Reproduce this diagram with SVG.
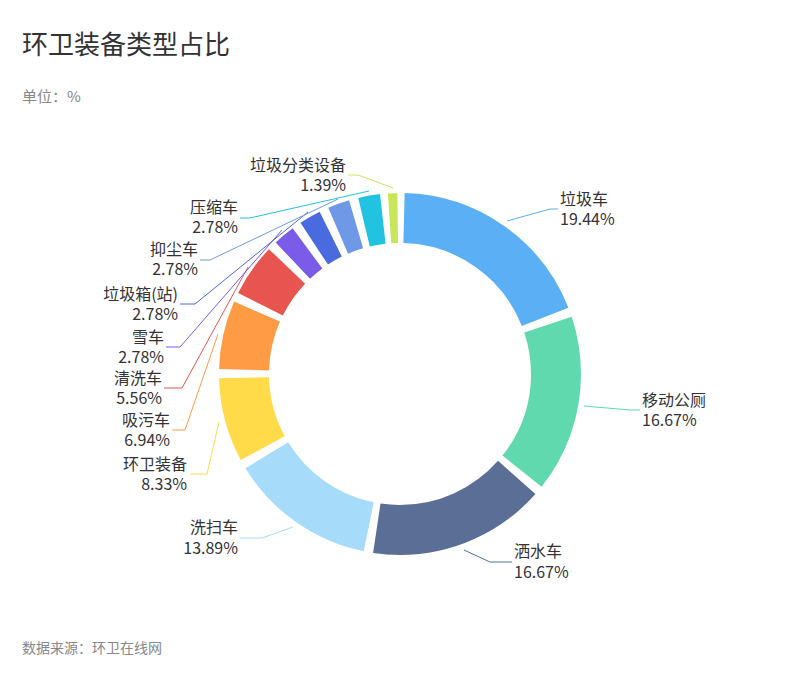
<svg xmlns="http://www.w3.org/2000/svg" width="799" height="679" viewBox="0 0 799 679">
<style>
text{font-family:"Noto Sans CJK SC","Noto Sans",sans-serif;fill:#333}
.t{font-size:26px}
.s{font-size:15px;fill:#888}
.l{font-size:16px}
.e{text-anchor:end}
.seg{fill:none;stroke-width:50}
.ln{fill:none;stroke-width:1}
</style>
<rect width="799" height="679" fill="#fff"/>
<text class="t" x="22" y="54">环卫装备类型占比</text>
<text class="s" x="22" y="102">单位：%</text>
<text class="s" x="22" y="653" style="font-size:14px">数据来源：环卫在线网</text>
<g id="ring" transform="rotate(-90 400 374)">
<circle id="n1" class="seg" cx="400" cy="374" r="156" stroke="#5bb0f5" stroke-dasharray="182.37 2000" stroke-dashoffset="-4.08"/>
<circle id="n2" class="seg" cx="400" cy="374" r="156" stroke="#5fd9ad" stroke-dasharray="155.22 2000" stroke-dashoffset="-194.62"/>
<circle id="n3" class="seg" cx="400" cy="374" r="156" stroke="#5a6e96" stroke-dasharray="155.22 2000" stroke-dashoffset="-358.01"/>
<circle id="n4" class="seg" cx="400" cy="374" r="156" stroke="#a6dcf9" stroke-dasharray="127.97 2000" stroke-dashoffset="-521.40"/>
<circle id="n5" class="seg" cx="400" cy="374" r="156" stroke="#ffdb4a" stroke-dasharray="73.49 2000" stroke-dashoffset="-657.53"/>
<circle id="n6" class="seg" cx="400" cy="374" r="156" stroke="#ff9a45" stroke-dasharray="59.85 2000" stroke-dashoffset="-739.18"/>
<circle id="n7" class="seg" cx="400" cy="374" r="156" stroke="#e85550" stroke-dasharray="46.34 2000" stroke-dashoffset="-807.19"/>
<circle id="n8" class="seg" cx="400" cy="374" r="156" stroke="#7a5ce8" stroke-dasharray="19.09 2000" stroke-dashoffset="-861.70"/>
<circle id="n9" class="seg" cx="400" cy="374" r="156" stroke="#4a6be0" stroke-dasharray="19.09 2000" stroke-dashoffset="-888.96"/>
<circle id="n10" class="seg" cx="400" cy="374" r="156" stroke="#6f98e6" stroke-dasharray="19.09 2000" stroke-dashoffset="-916.19"/>
<circle id="n11" class="seg" cx="400" cy="374" r="156" stroke="#22c3e0" stroke-dasharray="19.09 2000" stroke-dashoffset="-943.41"/>
<circle id="n12" class="seg" cx="400" cy="374" r="156" stroke="#c8e65a" stroke-dasharray="8.17 2000" stroke-dashoffset="-969.28"/>
</g>
<g id="connectors">
<polyline class="ln" stroke="#5bb0f5" points="507,221 550,209 558,209"/>
<polyline class="ln" stroke="#5fd9ad" points="584,406 630,410 640,410"/>
<polyline class="ln" stroke="#5a6e96" points="464,550 490,562 512,562"/>
<polyline class="ln" stroke="#a6dcf9" points="293,527 262,538 240,538"/>
<polyline class="ln" stroke="#ffdb4a" points="219,422 207,474 190,474"/>
<polyline class="ln" stroke="#ff9a45" points="218,334 185,430 172,430"/>
<polyline class="ln" stroke="#e85550" points="248,267 182,388 164,388"/>
<polyline class="ln" stroke="#7a5ce8" points="282,230 180,347 166,347"/>
<polyline class="ln" stroke="#4a6be0" points="308,212 195,304 180,304"/>
<polyline class="ln" stroke="#6f98e6" points="338,199 210,260 200,260"/>
<polyline class="ln" stroke="#22c3e0" points="369,191 250,218 240,218"/>
<polyline class="ln" stroke="#c8e65a" points="393,188 358,175 348,175"/>
</g>
<g id="labels">
<text class="l" x="560" y="205">垃圾车</text><text class="l" x="560" y="225">19.44%</text>
<text class="l" x="642" y="406">移动公厕</text><text class="l" x="642" y="426">16.67%</text>
<text class="l" x="514" y="557">洒水车</text><text class="l" x="514" y="578">16.67%</text>
<text class="l e" x="238" y="533">洗扫车</text><text class="l e" x="238" y="554">13.89%</text>
<text class="l e" x="187" y="470">环卫装备</text><text class="l e" x="187" y="490">8.33%</text>
<text class="l e" x="170" y="426">吸污车</text><text class="l e" x="170" y="446">6.94%</text>
<text class="l e" x="162" y="384">清洗车</text><text class="l e" x="162" y="404">5.56%</text>
<text class="l e" x="164" y="343">雪车</text><text class="l e" x="164" y="363">2.78%</text>
<text class="l e" x="178" y="300">垃圾箱(站)</text><text class="l e" x="178" y="320">2.78%</text>
<text class="l e" x="198" y="255">抑尘车</text><text class="l e" x="198" y="275">2.78%</text>
<text class="l e" x="238" y="213">压缩车</text><text class="l e" x="238" y="233">2.78%</text>
<text class="l e" x="346" y="171">垃圾分类设备</text><text class="l e" x="346" y="191">1.39%</text>
</g>
</svg>
